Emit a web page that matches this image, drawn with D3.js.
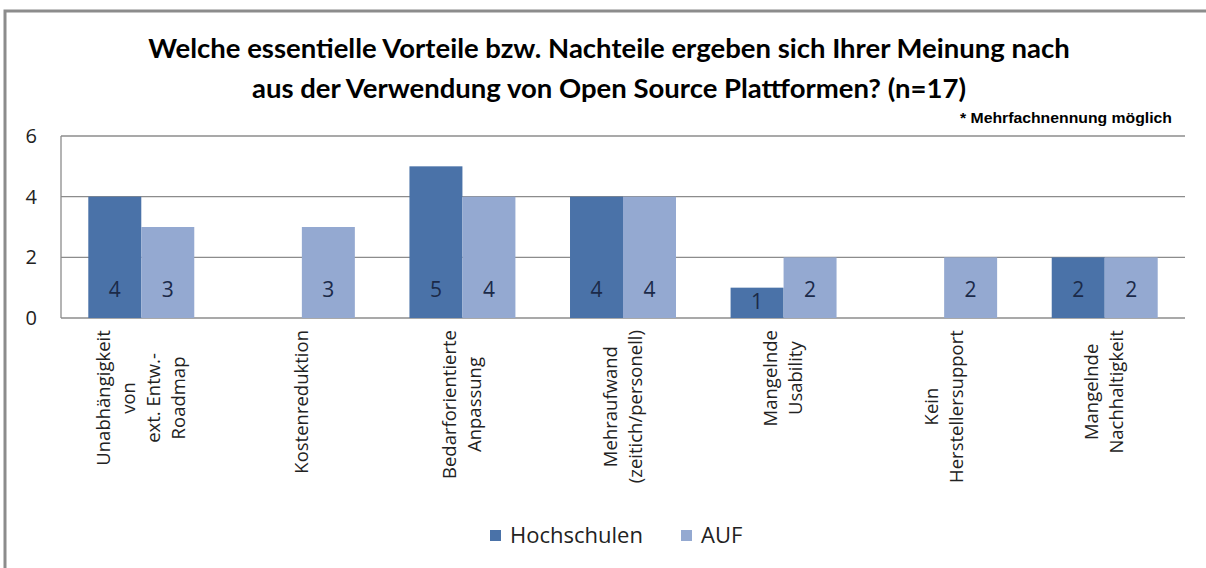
<!DOCTYPE html>
<html>
<head>
<meta charset="utf-8">
<script src="https://cdn.jsdelivr.net/npm/d3@7"></script>
<style>
body { margin: 0; background: #fff; }
svg { display: block; }
</style>
</head>
<body>
<div id="chart"></div>
<script>
// chart data
var categories = [
  ["Unabhängigkeit", "von", "ext. Entw.-", "Roadmap"],
  ["Kostenreduktion"],
  ["Bedarforientierte", "Anpassung"],
  ["Mehraufwand", "(zeitich/personell)"],
  ["Mangelnde", "Usability"],
  ["Kein", "Herstellersupport"],
  ["Mangelnde", "Nachhaltigkeit"]
];
var seriesNames = ["Hochschulen", "AUF"];
var hochschulen = [4, 0, 5, 4, 1, 0, 2];
var auf = [3, 3, 4, 4, 2, 2, 2];
var yTicks = [0, 2, 4, 6];

var colors = ["#4a72a8", "#94a9d1"];

var width = 1206, height = 568;
var margin = { left: 61, right: 21, top: 136, bottom: 250 };

var svg = d3.select("#chart").append("svg")
    .attr("width", width)
    .attr("height", height);

// outer frame
svg.append("path")
    .attr("d", "M5,568 V11 H1206")
    .attr("fill", "none")
    .attr("stroke", "#8c8c8c")
    .attr("stroke-width", 3);

// title
var title = svg.append("text")
    .attr("text-anchor", "middle")
    .attr("font-family", "Lato, sans-serif")
    .attr("font-weight", "bold")
    .attr("font-size", 27.5)
    .attr("fill", "#000");
title.append("tspan").attr("x", 609).attr("y", 58)
    .text("Welche essentielle Vorteile bzw. Nachteile ergeben sich Ihrer Meinung nach");
title.append("tspan").attr("x", 609).attr("y", 98)
    .text("aus der Verwendung von Open Source Plattformen? (n=17)");

svg.append("text")
    .attr("x", 1172).attr("y", 123)
    .attr("text-anchor", "end")
    .attr("font-family", "Liberation Sans, Arial, sans-serif")
    .attr("font-weight", "bold")
    .attr("font-size", 14)
    .attr("textLength", 212)
    .attr("lengthAdjust", "spacingAndGlyphs")
    .text("* Mehrfachnennung möglich");

var x0 = d3.scaleBand()
    .domain(d3.range(categories.length))
    .range([margin.left, width - margin.right])
    .paddingInner(0.34)
    .paddingOuter(0.17);

var x1 = d3.scaleBand()
    .domain([0, 1])
    .range([0, x0.bandwidth()]);

var y = d3.scaleLinear()
    .domain([0, 6])
    .range([318, 136]);

// gridlines
svg.append("g").selectAll("line")
    .data(yTicks)
    .enter().append("line")
    .attr("x1", margin.left)
    .attr("x2", width - margin.right)
    .attr("y1", function(d) { return y(d); })
    .attr("y2", function(d) { return y(d); })
    .attr("stroke", "#8c8c8c")
    .attr("stroke-width", 1.3);

// left axis line
svg.append("line")
    .attr("x1", margin.left).attr("x2", margin.left)
    .attr("y1", y(6)).attr("y2", y(0))
    .attr("stroke", "#8c8c8c")
    .attr("stroke-width", 1.3);

// y tick labels
svg.append("g").selectAll("text")
    .data(yTicks)
    .enter().append("text")
    .attr("x", 37)
    .attr("y", function(d) { return y(d) + 7; })
    .attr("text-anchor", "end")
    .attr("font-family", "Open Sans, sans-serif")
    .attr("font-size", 20)
    .attr("fill", "#222")
    .text(function(d) { return d; });

// bars - keep series index with each value
var rows = categories.map(function(c, i) {
  return [{ s: 0, v: hochschulen[i] }, { s: 1, v: auf[i] }].filter(function(d) { return d.v > 0; });
});

var groups = svg.append("g").selectAll("g")
    .data(rows)
    .enter().append("g")
    .attr("transform", function(d, i) { return "translate(" + x0(i) + ",0)"; });

groups.selectAll("rect")
    .data(function(d) { return d; })
    .enter().append("rect")
    .attr("x", function(d) { return x1(d.s); })
    .attr("width", x1.bandwidth())
    .attr("y", function(d) { return y(d.v); })
    .attr("height", function(d) { return y(0) - y(d.v); })
    .attr("fill", function(d) { return colors[d.s]; });

// value labels near the bar base
groups.selectAll("text")
    .data(function(d) { return d; })
    .enter().append("text")
    .attr("x", function(d) { return x1(d.s) + x1.bandwidth() / 2; })
    .attr("y", function(d) { return Math.max(297, y(d.v) + 21); })
    .attr("text-anchor", "middle")
    .attr("font-family", "Open Sans, sans-serif")
    .attr("font-size", 21)
    .attr("fill", "#1b2a49")
    .text(function(d) { return d.v; });

// category labels (rotated, multi line)
var lineH = 25;
categories.forEach(function(lines, i) {
  var cx = x0(i) + x0.bandwidth() / 2;
  var g = svg.append("g");
  var t = g.append("text")
    .attr("text-anchor", "middle")
    .attr("font-family", "Open Sans, sans-serif")
    .attr("font-size", 18.5)
    .attr("fill", "#222");
  lines.forEach(function(s, k) {
    t.append("tspan").attr("x", 0).attr("y", k * lineH).text(s);
  });
  var maxW = t.node().getBBox().width;
  var n = lines.length;
  // rotate, centre block on category, longest line top at y=330
  var cy = 330 + maxW / 2;
  var off = cx + 6 - (n - 1) * lineH / 2;
  g.attr("transform", "translate(" + off + "," + cy + ") rotate(-90)");
});

// legend
var legend = svg.append("g");
var legX = [490, 681];
seriesNames.forEach(function(name, j) {
  legend.append("rect")
    .attr("x", legX[j]).attr("y", 530)
    .attr("width", 11).attr("height", 11)
    .attr("fill", colors[j]);
  legend.append("text")
    .attr("x", legX[j] + 20).attr("y", 543)
    .attr("font-family", "Open Sans, sans-serif")
    .attr("font-size", 22)
    .attr("fill", "#222")
    .text(name);
});
</script>
</body>
</html>
